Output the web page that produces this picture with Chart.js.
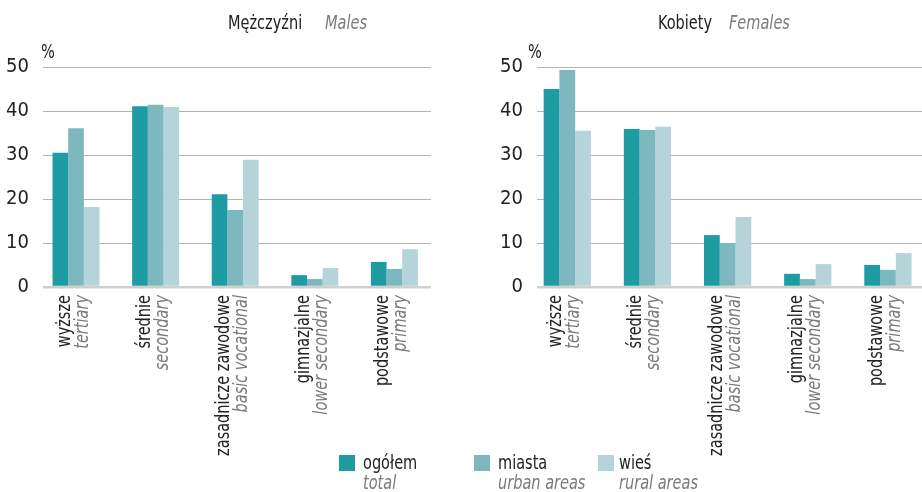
<!DOCTYPE html>
<html>
<head>
<meta charset="utf-8">
<script src="https://cdn.jsdelivr.net/npm/chart.js@4/dist/chart.umd.min.js"></script>
<style>
  body { margin: 0; background: #fff; width: 922px; height: 492px; position: relative; overflow: hidden;
         font-family: "Liberation Sans Narrow", "DejaVu Sans Condensed", Roboto, sans-serif; }
  canvas { position: absolute; top: 0; }
  #males { left: 0; }
  #females { left: 460px; }
  .leg { position: absolute; top: 452px; font-size: 19px; line-height: 20px; white-space: nowrap; }
  .leg .sw { position: absolute; left: 0; top: 3px; width: 16px; height: 16px; }
  .leg .pl, .leg .en { transform: scaleX(0.85); transform-origin: left; }
  .leg .pl { color: #222; }
  .leg .en { color: #7a7a7a; font-style: italic; }
</style>
</head>
<body>
<canvas id="males" width="460" height="492"></canvas>
<canvas id="females" width="462" height="492"></canvas>
<div id="legend"></div>
<script>
// dane
const categoriesPl = ["wyższe", "średnie", "zasadnicze zawodowe", "gimnazjalne", "podstawowe"];
const categoriesEn = ["tertiary", "secondary", "basic vocational", "lower secondary", "primary"];
const seriesPl = ["ogółem", "miasta", "wieś"];
const seriesEn = ["total", "urban areas", "rural areas"];
const malesTotal = [30.5, 41.1, 21.1, 2.7, 5.7];
const malesUrban = [36.1, 41.4, 17.5, 1.8, 4.1];
const malesRural = [18.2, 40.9, 28.9, 4.3, 8.6];
const femalesTotal = [45.0, 35.9, 11.8, 3.0, 5.0];
const femalesUrban = [49.3, 35.7, 10.0, 1.8, 3.9];
const femalesRural = [35.5, 36.4, 15.9, 5.2, 7.7];
const yTicks = [0, 10, 20, 30, 40, 50];

const colors = ["#1f9ca3", "#7eb8bf", "#b4d4d9"];
const FONT = '"Liberation Sans Narrow", "DejaVu Sans Condensed", Roboto, sans-serif';
const SQUEEZE = 0.85; // font jest szerszy niz w oryginale

function squeezedText(ctx, text, x, y, align) {
  ctx.save();
  ctx.translate(x, y);
  ctx.scale(SQUEEZE, 1);
  ctx.textAlign = align;
  ctx.fillText(text, 0, 0);
  ctx.restore();
}

// napisy: tytuł, %, etykiety kategorii (dwie linie, różne style)
const textPlugin = {
  id: "texts",
  afterDraw(chart, args, o) {
    const ctx = chart.ctx;
    const x = chart.scales.x;
    ctx.save();
    ctx.textBaseline = "alphabetic";
    ctx.font = "19px " + FONT;
    ctx.fillStyle = "#222";
    squeezedText(ctx, o.titlePl, o.titleX, 29, "left");
    ctx.font = "italic 19px " + FONT;
    ctx.fillStyle = "#7a7a7a";
    squeezedText(ctx, o.titleEn, o.titleEnX, 29, "left");
    ctx.font = "19px " + FONT;
    ctx.fillStyle = "#222";
    squeezedText(ctx, "%", o.pctX, 58, "left");

    categoriesPl.forEach(function (c, i) {
      const cx = x.getPixelForValue(i);
      ctx.save();
      ctx.translate(cx - 6, 295);
      ctx.rotate(-Math.PI / 2);
      ctx.font = "19px " + FONT;
      ctx.fillStyle = "#222";
      squeezedText(ctx, c, 0, 0, "right");
      ctx.restore();
      ctx.save();
      ctx.translate(cx + 12, 295);
      ctx.rotate(-Math.PI / 2);
      ctx.font = "italic 19px " + FONT;
      ctx.fillStyle = "#7a7a7a";
      squeezedText(ctx, categoriesEn[i], 0, 0, "right");
      ctx.restore();
    });
    ctx.restore();
  }
};

function points(values) {
  return values.map(function (v, i) { return { x: i, y: v }; });
}

function makeChart(id, total, urban, rural, o) {
  const w = document.getElementById(id).width;
  return new Chart(document.getElementById(id), {
    type: "bar",
    data: {
      labels: categoriesPl,
      datasets: [
        { label: seriesPl[0], data: points(total), backgroundColor: colors[0] },
        { label: seriesPl[1], data: points(urban), backgroundColor: colors[1] },
        { label: seriesPl[2], data: points(rural), backgroundColor: colors[2] }
      ]
    },
    options: {
      responsive: false,
      animation: false,
      devicePixelRatio: 1,
      layout: { padding: { left: 0, right: w - o.areaRight, top: 67, bottom: 492 - 287 } },
      datasets: { bar: { barPercentage: 1.0, categoryPercentage: 0.59 } },
      scales: {
        x: { type: "linear", display: false, min: o.xMin, max: o.xMax, offset: false },
        y: {
          min: 0,
          max: 50,
          afterBuildTicks: function (s) { s.ticks = yTicks.map(function (v) { return { value: v }; }); },
          afterFit: function (s) { s.width = o.areaLeft; },
          ticks: { color: "#222", padding: 14, font: { family: FONT, size: 20 } },
          grid: {
            drawTicks: false,
            color: function (c) { return c.tick.value === 0 ? "#cfcfcf" : "#b3b3b3"; },
            lineWidth: function (c) { return c.tick.value === 0 ? 2.5 : 1; }
          },
          border: { display: false }
        }
      },
      plugins: {
        legend: { display: false },
        tooltip: { enabled: false },
        texts: o
      }
    },
    plugins: [textPlugin]
  });
}

makeChart("males", malesTotal, malesUrban, malesRural,
  { areaLeft: 43, areaRight: 431, xMin: -0.415, xMax: 4.46,
    titlePl: "Mężczyźni", titleEn: "Males", titleX: 228, titleEnX: 325, pctX: 41 });
makeChart("females", femalesTotal, femalesUrban, femalesRural,
  { areaLeft: 77, areaRight: 462, xMin: -0.378, xMax: 4.425,
    titlePl: "Kobiety", titleEn: "Females", titleX: 198, titleEnX: 269, pctX: 68 });

// legenda
const legX = [339, 474, 598];
const legend = document.getElementById("legend");
seriesPl.forEach(function (s, i) {
  const d = document.createElement("div");
  d.className = "leg";
  d.style.left = legX[i] + "px";
  d.innerHTML = '<span class="sw" style="background:' + colors[i] + '"></span>' +
    '<div style="padding-left:' + (i === 2 ? 21 : 24) + 'px"><div class="pl">' + s +
    '</div><div class="en">' + seriesEn[i] + '</div></div>';
  legend.appendChild(d);
});
</script>
</body>
</html>
